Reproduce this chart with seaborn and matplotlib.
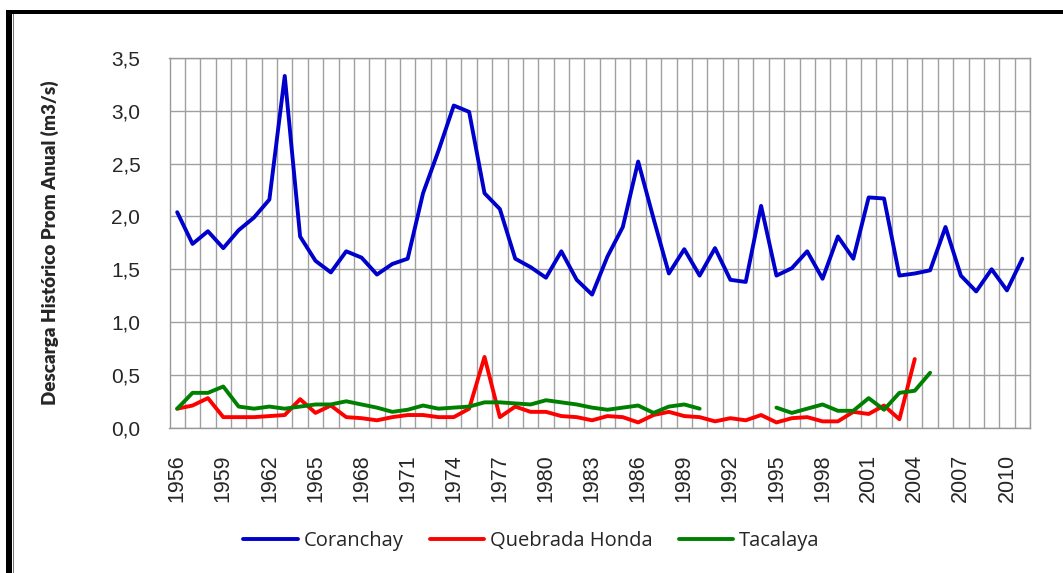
import numpy as np
import pandas as pd
import matplotlib
matplotlib.use("Agg")
import matplotlib.pyplot as plt
from matplotlib.patches import Rectangle
from matplotlib.ticker import MultipleLocator, FuncFormatter
import seaborn as sns

years = list(range(1956, 2012))

coranchay = [2.04, 1.74, 1.86, 1.70, 1.87, 1.99, 2.16, 3.33, 1.81, 1.58,
             1.47, 1.67, 1.61, 1.45, 1.55, 1.60, 2.22, 2.62, 3.05, 2.99,
             2.22, 2.07, 1.60, 1.52, 1.42, 1.67, 1.40, 1.26, 1.62, 1.90,
             2.52, 1.98, 1.46, 1.69, 1.44, 1.70, 1.40, 1.38, 2.10, 1.44,
             1.51, 1.67, 1.41, 1.81, 1.60, 2.18, 2.17, 1.44, 1.46, 1.49,
             1.90, 1.44, 1.29, 1.50, 1.30, 1.60]

quebrada_honda = [0.18, 0.21, 0.28, 0.10, 0.10, 0.10, 0.11, 0.12, 0.27, 0.14,
                  0.21, 0.10, 0.09, 0.07, 0.10, 0.12, 0.12, 0.10, 0.10, 0.18,
                  0.67, 0.10, 0.20, 0.15, 0.15, 0.11, 0.10, 0.07, 0.11, 0.10,
                  0.05, 0.12, 0.15, 0.11, 0.10, 0.06, 0.09, 0.07, 0.12, 0.05,
                  0.09, 0.10, 0.06, 0.06, 0.15, 0.13, 0.21, 0.08, 0.65]

tacalaya = [0.18, 0.33, 0.33, 0.39, 0.20, 0.18, 0.20, 0.18, 0.20, 0.22,
            0.22, 0.25, 0.22, 0.19, 0.15, 0.17, 0.21, 0.18, 0.19, 0.20,
            0.24, 0.24, 0.23, 0.22, 0.26, 0.24, 0.22, 0.19, 0.17, 0.19,
            0.21, 0.14, 0.20, 0.22, 0.18, np.nan, np.nan, np.nan, np.nan, 0.19,
            0.14, 0.18, 0.22, 0.16, 0.16, 0.28, 0.17, 0.33, 0.35, 0.52]

series_names = ["Coranchay", "Quebrada Honda", "Tacalaya"]
series_colors = ["#0000CC", "#FF0000", "#008000"]

rows = []
for name, vals in zip(series_names, [coranchay, quebrada_honda, tacalaya]):
    tramo = 0
    prev_nan = False
    for yr, v in zip(years, vals):
        if np.isnan(v):
            prev_nan = True
            continue
        if prev_nan:
            tramo += 1
            prev_nan = False
        rows.append({"Año": yr, "Descarga": v, "Serie": name, "Tramo": tramo})
df = pd.DataFrame(rows)

sns.set_style("white")
plt.rcParams['font.family'] = ['Liberation Sans', 'DejaVu Sans']

fig = plt.figure(figsize=(10.63, 5.73), dpi=100)
ax = fig.add_axes([169.5 / 1063, 1 - 427.7 / 573, (1030 - 169.5) / 1063, (427.7 - 58) / 573])

sns.lineplot(data=df, x="Año", y="Descarga", hue="Serie", units="Tramo", estimator=None,
             palette=dict(zip(series_names, series_colors)), hue_order=series_names,
             linewidth=2.8, ax=ax, legend=False)

ax.set_xlim(years[0] - 0.5, years[-1] + 0.5)
ax.set_ylim(0, 3.5)
ax.yaxis.set_major_locator(MultipleLocator(0.5))
ax.yaxis.set_major_formatter(FuncFormatter(lambda v, p: f"{v:.1f}".replace(".", ",")))
ax.set_xticks(years[::3])
ax.set_xticklabels([str(y) for y in years[::3]], rotation=90)
ax.set_xticks([y - 0.5 for y in years] + [years[-1] + 0.5], minor=True)
ax.tick_params(axis="x", which="major", length=0, pad=19, labelsize=15.5)
ax.tick_params(axis="x", which="minor", length=8, color="#999999", width=1)
ax.tick_params(axis="y", which="major", length=8, color="#999999", width=1, pad=13, labelsize=15)
ax.grid(True, which="minor", axis="x", color="#A0A0A0", linewidth=1)
ax.grid(True, which="major", axis="y", color="#A0A0A0", linewidth=1)
ax.grid(False, which="major", axis="x")
for s in ax.spines.values():
    s.set_color("#999999")
    s.set_linewidth(1)
ax.set_xlabel("")
ax.set_ylabel("Descarga Histórico Prom Anual (m3/s)", fontsize=13.5, fontweight="heavy",
              family=["Lato", "DejaVu Sans"])
ax.yaxis.set_label_coords(-0.128, 0.5)

handles = [plt.Line2D([], [], color=c, linewidth=2.8) for c in series_colors]
fig.legend(handles, series_names, loc="center", bbox_to_anchor=(0.5, 1 - 541 / 573), ncol=3,
           frameon=False, handlelength=2.7, handletextpad=0.3, columnspacing=1.3,
           prop={"family": ["Open Sans", "DejaVu Sans"], "size": 14.5})

# marco del gráfico
fig.add_artist(Rectangle((6 / 1063, -0.1), 6 / 1063, 1.1 - 10 / 573, transform=fig.transFigure,
                         facecolor="black", edgecolor="none"))
fig.add_artist(Rectangle((6 / 1063, 1 - 13.5 / 573), 1.1, 3.5 / 573, transform=fig.transFigure,
                         facecolor="black", edgecolor="none"))
fig.add_artist(Rectangle((13.3 / 1063, -0.1), 1 / 1063, 1.1 - 13.5 / 573, transform=fig.transFigure,
                         facecolor="#777777", edgecolor="none"))

fig.savefig("out.png", dpi=100)
